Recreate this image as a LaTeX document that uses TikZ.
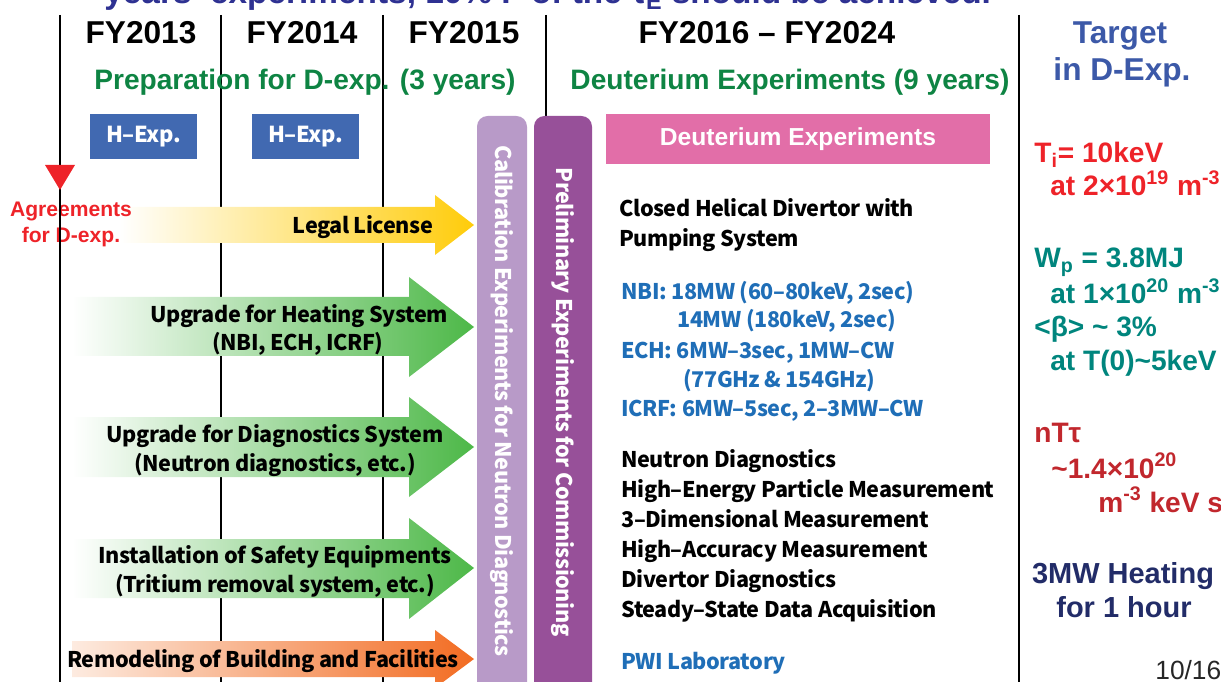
\documentclass[tikz,border=0pt]{standalone}
\usepackage{fontspec}
\setmainfont{Liberation Sans}
\newfontfamily\goth{Noto Sans CJK JP}[LetterSpace=-2]
\usetikzlibrary{positioning}

\definecolor{hblue}{HTML}{4169B1}
\definecolor{licyel}{HTML}{FFCC0A}
\definecolor{upgrn}{HTML}{4DB848}
\definecolor{remorg}{HTML}{F26B21}
\definecolor{remlight}{HTML}{FDEBE0}
\definecolor{calib}{HTML}{B89AC8}
\definecolor{prelim}{HTML}{975099}
\definecolor{dpink}{HTML}{E26EA8}
\definecolor{phgrn}{HTML}{0E8443}
\definecolor{listblue}{HTML}{1F6EB7}
\definecolor{agred}{HTML}{EE2329}
\definecolor{tealc}{HTML}{00857D}
\definecolor{dred}{HTML}{C1272D}
\definecolor{navyc}{HTML}{222C68}
\definecolor{tgtblue}{HTML}{3C59A8}
\definecolor{ttlblue}{HTML}{2E3192}

\tikzset{
  yearlbl/.style={anchor=base, inner sep=0pt, font=\bfseries\fontsize{18}{20}\selectfont},
  phaselbl/.style={anchor=base, inner sep=0pt, text=phgrn, font=\bfseries\fontsize{16}{18}\selectfont},
  tgtlbl/.style={anchor=base, inner sep=0pt, text=tgtblue, font=\bfseries\fontsize{18}{20}\selectfont},
  hbox/.style={fill=hblue, text=white, inner sep=0pt, minimum width=60.7pt, minimum height=25.5pt,
    font=\goth\bfseries\fontsize{12.5}{15}\selectfont},
  arrlbl/.style={anchor=base, inner sep=0pt, font=\goth\bfseries\fontsize{12.3}{14}\selectfont},
  bartext/.style={rotate=-90, inner sep=0pt, text=white, font=\goth\bfseries\fontsize{12.3}{14}\selectfont},
  item/.style={anchor=base west, inner sep=0pt, font=\goth\bfseries\fontsize{12.3}{14}\selectfont},
  trg/.style={anchor=base west, inner sep=0pt, font=\bfseries\fontsize{16}{18}\selectfont},
  agr/.style={anchor=base, inner sep=0pt, text=agred, font=\bfseries\fontsize{12}{14}\selectfont},
  licarrow/.style={left color=white, right color=licyel},
  uparrow/.style={left color=white, right color=upgrn},
  remarrow/.style={left color=remlight, right color=remorg},
}

\begin{document}
\begin{tikzpicture}[x=0.02cm,y=-0.02cm]
\useasboundingbox (0,0) rectangle (1221,682);
\clip (0,0) rectangle (1221,682);

% title line, cut by the top edge
\node[anchor=base west, inner sep=0pt, text=ttlblue, font=\bfseries\fontsize{19}{21}\selectfont] (ttl) at (104,4)
  {years' experiments, 10\% F of the τ\textsubscript{E} should be achieved.};

% time grid
\foreach \x in {60,221,383,546,1019}
  \draw[line width=0.6pt] (\x,15) -- (\x,690);

\node[yearlbl] (fy13) at (141,44) {FY2013};
\node[yearlbl] (fy14) at (302,44) {FY2014};
\node[yearlbl] (fy15) at (464,44) {FY2015};
\node[yearlbl] (fy16) at (767,44) {FY2016 -- FY2024};
\node[tgtlbl] (tgt1) at (1120,44) {Target};
\node[tgtlbl] (tgt2) at (1122,81) {in D-Exp.};

\node[phaselbl] (prep) at (305,90) {Preparation for D-exp. (3 years)};
\node[phaselbl] (deut) at (790,90) {Deuterium Experiments (9 years)};

\node[hbox] (h13) at (143.5,136.5) {H–Exp.};
\node[hbox] (h14) at (305.5,136.5) {H–Exp.};

% work items
\shade[licarrow] (120,207) -- (435,207) -- (435,195) -- (474,225) -- (435,255) -- (435,243) -- (120,243) -- cycle;
\shade[uparrow] (72,297) -- (409,297) -- (409,277) -- (474,327) -- (409,377) -- (409,356) -- (72,356) -- cycle;
\shade[uparrow] (72,417) -- (409,417) -- (409,397) -- (474,447) -- (409,497) -- (409,477) -- (72,477) -- cycle;
\shade[uparrow] (72,539) -- (409,539) -- (409,518) -- (474,568) -- (409,619) -- (409,598) -- (72,598) -- cycle;
\shade[remarrow] (72,641) -- (435,641) -- (435,630) -- (474,659) -- (435,688) -- (435,677) -- (72,677) -- cycle;

\node[arrlbl] (lic) at (363,234) {Legal License};
\node[arrlbl] (heat1) at (299,323) {Upgrade for Heating System};
\node[arrlbl] (heat2) at (298,351) {(NBI, ECH, ICRF)};
\node[arrlbl] (diag1) at (275,442) {Upgrade for Diagnostics System};
\node[arrlbl] (diag2) at (275,471) {(Neutron diagnostics, etc.)};
\node[arrlbl] (safe1) at (275,563) {Installation of Safety Equipments};
\node[arrlbl] (safe2) at (275,592) {(Tritium removal system, etc.)};
\node[arrlbl] (remo) at (263,667) {Remodeling of Building and Facilities};

% agreements
\fill[agred] (45,165) -- (75,165) -- (60,190) -- cycle;
\node[agr] (agr1) at (71,217) {Agreements};
\node[agr] (agr2) at (71,243) {for D-exp.};
\draw[line width=0.6pt] (60,190) -- (60,260);

% FY2015 bars
\fill[calib, rounded corners=6pt] (477,700) -- (477,116) -- (527,116) -- (527,700);
\fill[prelim, rounded corners=6pt] (534,700) -- (534,116) -- (592,116) -- (592,700);
\node[bartext] (cal) at (502,401) {Calibration Experiments for Neutron Diagnostics};
\node[bartext] (pre) at (563,402) {Preliminary Experiments for Commissioning};

% deuterium phase
\node[fill=dpink, text=white, inner sep=0pt, minimum width=218pt, minimum height=28.4pt,
  font=\bfseries\fontsize{14}{16}\selectfont] (dexp) at (798,139) {Deuterium Experiments};

\node[item] (div1) at (619,217) {Closed Helical Divertor with};
\node[item] (div2) at (619,247) {Pumping System};
\node[item, text=listblue] (nbi1) at (621,299) {NBI: 18MW (60–80keV, 2sec)};
\node[item, text=listblue] (nbi2) at (677,328) {14MW (180keV, 2sec)};
\node[item, text=listblue] (ech1) at (621,358) {ECH: 6MW–3sec, 1MW–CW};
\node[item, text=listblue] (ech2) at (683,387) {(77GHz \& 154GHz)};
\node[item, text=listblue] (icrf) at (621,417) {ICRF: 6MW–5sec, 2–3MW–CW};
\node[item] (nd) at (621,467) {Neutron Diagnostics};
\node[item] (hep) at (621,497) {High–Energy Particle Measurement};
\node[item] (tdm) at (621,527) {3–Dimensional Measurement};
\node[item] (ham) at (621,557) {High–Accuracy Measurement};
\node[item] (dd) at (621,587) {Divertor Diagnostics};
\node[item] (ssd) at (621,617) {Steady–State Data Acquisition};
\node[item, text=listblue] (pwi) at (621,669) {PWI Laboratory};

% targets
\node[trg, text=agred] (ti1) at (1034,163) {T\textsubscript{i}= 10keV};
\node[trg, text=agred] (ti2) at (1050,196) {at 2×10\textsuperscript{19} m\textsuperscript{-3}};
\node[trg, text=tealc] (wp1) at (1034,268) {W\textsubscript{p} = 3.8MJ};
\node[trg, text=tealc] (wp2) at (1050,304) {at 1×10\textsuperscript{20} m\textsuperscript{-3}};
\node[trg, text=tealc] (bt1) at (1034,337) {<β> \textasciitilde{} 3\%};
\node[trg, text=tealc] (bt2) at (1050,371) {at T(0)\textasciitilde 5keV};
\node[trg, text=dred] (nt1) at (1034,442) {nTτ};
\node[trg, text=dred] (nt2) at (1051,478) {\textasciitilde 1.4×10\textsuperscript{20}};
\node[trg, text=dred] (nt3) at (1098,512) {m\textsuperscript{-3} keV s};
\node[anchor=base, inner sep=0pt, text=navyc, font=\bfseries\fontsize{16.5}{18}\selectfont] (mw1) at (1123,583) {3MW Heating};
\node[anchor=base, inner sep=0pt, text=navyc, font=\bfseries\fontsize{16.5}{18}\selectfont] (mw2) at (1124,617) {for 1 hour};
\node[anchor=base west, inner sep=0pt, text=black!85, font=\fontsize{15}{17}\selectfont] (pg) at (1155,679) {10/16};
\end{tikzpicture}
\end{document}
